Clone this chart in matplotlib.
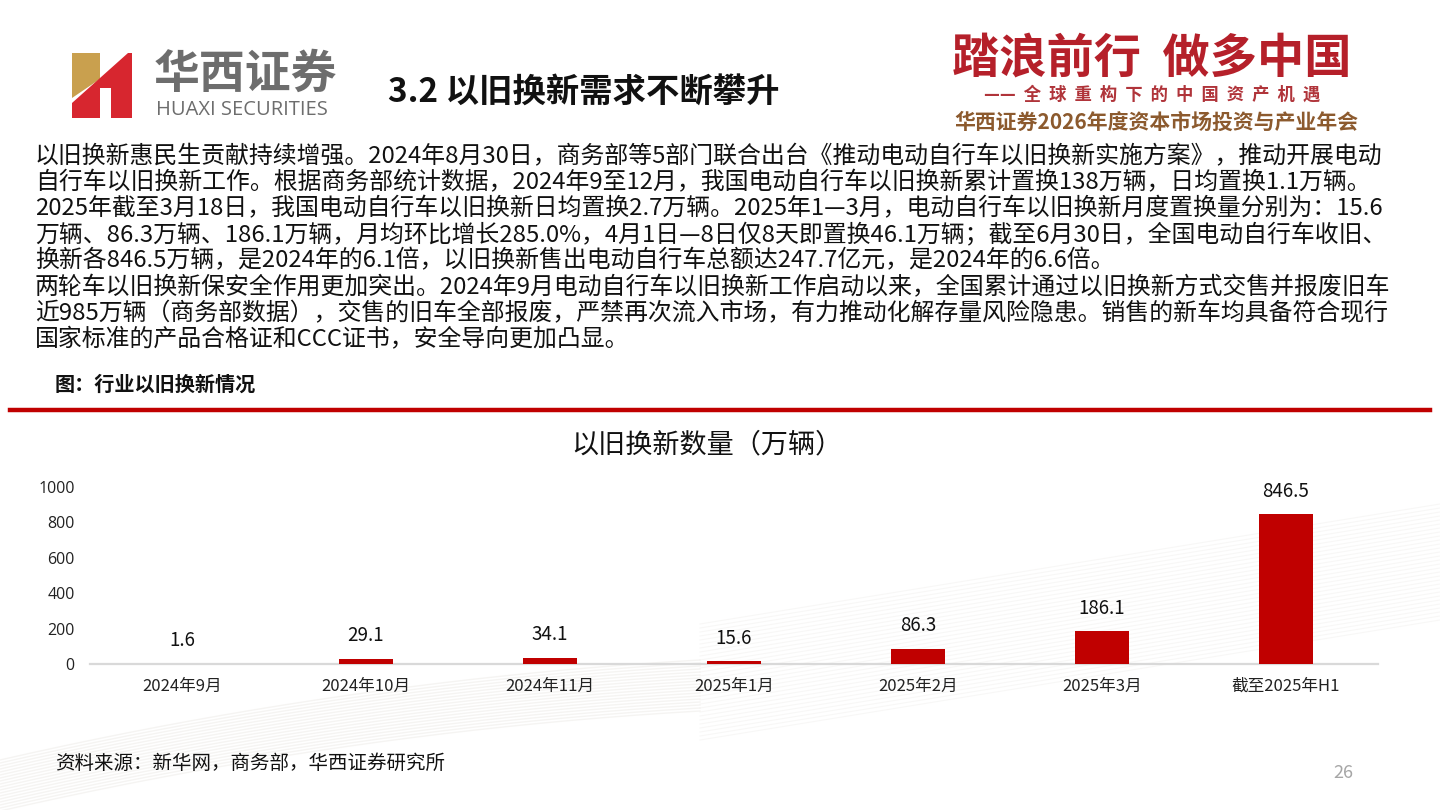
import matplotlib
matplotlib.use("Agg")
import matplotlib.pyplot as plt
from matplotlib.patches import Polygon
import numpy as np

plt.rcParams['font.family'] = ['Noto Sans CJK SC', 'DejaVu Sans']

# ---------------- data ----------------
categories = ["2024年9月", "2024年10月", "2024年11月", "2025年1月", "2025年2月", "2025年3月", "截至2025年H1"]
values = [1.6, 29.1, 34.1, 15.6, 86.3, 186.1, 846.5]
yticks = [0, 200, 400, 600, 800, 1000]

page_title = "3.2 以旧换新需求不断攀升"
paragraph_lines = [
    "以旧换新惠民生贡献持续增强。2024年8月30日，商务部等5部门联合出台《推动电动自行车以旧换新实施方案》，推动开展电动",
    "自行车以旧换新工作。根据商务部统计数据，2024年9至12月，我国电动自行车以旧换新累计置换138万辆，日均置换1.1万辆。",
    "2025年截至3月18日，我国电动自行车以旧换新日均置换2.7万辆。2025年1—3月，电动自行车以旧换新月度置换量分别为：15.6",
    "万辆、86.3万辆、186.1万辆，月均环比增长285.0%，4月1日—8日仅8天即置换46.1万辆；截至6月30日，全国电动自行车收旧、",
    "换新各846.5万辆，是2024年的6.1倍，以旧换新售出电动自行车总额达247.7亿元，是2024年的6.6倍。",
    "两轮车以旧换新保安全作用更加突出。2024年9月电动自行车以旧换新工作启动以来，全国累计通过以旧换新方式交售并报废旧车",
    "近985万辆（商务部数据），交售的旧车全部报废，严禁再次流入市场，有力推动化解存量风险隐患。销售的新车均具备符合现行",
    "国家标准的产品合格证和CCC证书，安全导向更加凸显。",
]
line_y = [157, 183, 209, 235, 261, 288, 314, 340]
fig_caption = "图：行业以旧换新情况"
chart_title = "以旧换新数量（万辆）"
slogan1 = "踏浪前行  做多中国"
slogan2 = "——  全  球  重  构  下  的  中  国  资  产  机  遇"
slogan3 = "华西证券2026年度资本市场投资与产业年会"
source = "资料来源：新华网，商务部，华西证券研究所"
page_no = "26"

W, H = 1440, 810
fig = plt.figure(figsize=(W / 100, H / 100), dpi=100)
fig.patch.set_facecolor("white")

def fx(x):
    return x / W

def fy(y):
    return 1 - y / H

# faint background swooshes near the bottom
bg = fig.add_axes([0, 0, 1, 1], zorder=-5)
bg.set_xlim(0, W)
bg.set_ylim(H, 0)
bg.axis("off")
t = np.linspace(0, 1, 200)
for k in range(18):
    xs = 0 + t * 700
    ys = 700 + 60 * (1 - t) ** 2 + k * 3 - 40 * t
    bg.plot(xs, ys, color="#EFEDEA", lw=1.0, alpha=0.6)
for k in range(30):
    xs = 700 + t * 740
    ys = 740 - k * 4 - 120 * t
    bg.plot(xs, ys, color="#F1F0EE", lw=0.8, alpha=0.5)

# ---------------- logo ----------------
gold = Polygon([(fx(72), fy(53)), (fx(100), fy(53)), (fx(100), fy(79)), (fx(72), fy(98))],
               closed=True, transform=fig.transFigure, facecolor="#C9A04E", edgecolor="none")
red = Polygon([(fx(72), fy(103)), (fx(128), fy(53)), (fx(132), fy(53)), (fx(132), fy(118)),
               (fx(111), fy(118)), (fx(111), fy(88)), (fx(100), fy(88)), (fx(100), fy(118)),
               (fx(72), fy(118))],
              closed=True, transform=fig.transFigure, facecolor="#D7262F", edgecolor="none")
fig.patches.extend([gold, red])
fig.text(fx(154), fy(75), "华西证券", fontsize=33, color="#6D6D6D", fontweight="bold",
         va="center", ha="left")
fig.text(fx(156), fy(110), "HUAXI SECURITIES", fontsize=14.5, color="#6D6D6D",
         va="center", ha="left", family=["Open Sans", "DejaVu Sans"])

# ---------------- title ----------------
fig.text(fx(388), fy(93), page_title, fontsize=24, fontweight="bold", color="#111111",
         va="center", ha="left")

# ---------------- slogan ----------------
fig.text(fx(1152), fy(58), slogan1, fontsize=34, fontweight="heavy",
         color="#B5202A", va="center", ha="center")
fig.text(fx(1152), fy(95), slogan2, fontsize=12.5,
         fontweight="bold", color="#B0343A", va="center", ha="center")
fig.text(fx(1156), fy(122), slogan3, fontsize=15,
         fontweight="bold", color="#8C5A2E", va="center", ha="center")

# ---------------- paragraphs ----------------
for txt, y in zip(paragraph_lines, line_y):
    fig.text(fx(35), fy(y), txt, fontsize=17.2, color="#111111", va="center", ha="left")

fig.text(fx(55), fy(384), fig_caption, fontsize=14.5, fontweight="bold", color="#111111",
         va="center", ha="left")

# red separator line
fig.add_artist(plt.Line2D([fx(10), fx(1430)], [fy(410), fy(410)], transform=fig.transFigure,
                          color="#C00000", lw=3.2))

fig.text(fx(707), fy(445), chart_title, fontsize=19.5, fontweight="medium", color="#111111",
         va="center", ha="center")

# ---------------- chart ----------------
ax = fig.add_axes([fx(90), fy(664), fx(1378) - fx(90), fy(487) - fy(664)])
ax.set_facecolor("none")
x = np.arange(len(categories))
bars = ax.bar(x, values, width=0.29, color="#C00000", zorder=3)
ax.set_xlim(-0.5, len(categories) - 0.5)
ax.set_ylim(0, 1000)
ax.set_yticks(yticks)
ax.set_yticklabels([str(v) for v in yticks], fontsize=11.5,
                   family=["Open Sans", "DejaVu Sans"], color="#222222")
ax.set_xticks(x)
ax.set_xticklabels(categories, fontsize=12, color="#222222")
ax.tick_params(axis="both", length=0)
ax.tick_params(axis="y", pad=11)
ax.tick_params(axis="x", pad=10)
for s in ["top", "right", "left"]:
    ax.spines[s].set_visible(False)
ax.spines["bottom"].set_color("#D9D9D9")
ax.spines["bottom"].set_linewidth(1.6)
for xi, v in zip(x, values):
    ax.annotate(f"{v:.1f}", (xi, v), xytext=(0, 9), textcoords="offset points",
                ha="center", va="bottom", fontsize=13.5, color="#111111")

# ---------------- footer ----------------
fig.text(fx(55), fy(763), source, fontsize=14, color="#111111", va="center", ha="left")
fig.text(fx(1343), fy(773), page_no, fontsize=13, color="#A6A6A6", va="center", ha="center")

fig.savefig("out.png", dpi=100)
